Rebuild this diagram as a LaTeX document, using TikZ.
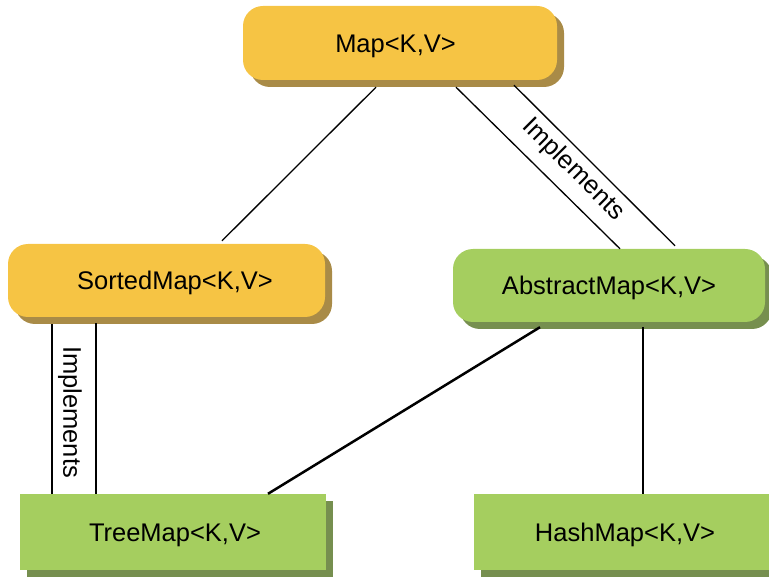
\documentclass[tikz,border=0pt]{standalone}
\usepackage{fontspec}
\setmainfont{Liberation Sans}
\usetikzlibrary{shadows}
\definecolor{orfill}{HTML}{F6C444}
\definecolor{orshadow}{HTML}{A98B47}
\definecolor{grfill}{HTML}{A5CE5F}
\definecolor{grshadow}{HTML}{768F4F}
\tikzset{
  boxtext/.style={font=\fontsize{25.5}{30}\selectfont, text height=18.3pt, text depth=0pt, inner sep=0pt},
  orbox/.style={boxtext, rounded corners=20pt, fill=orfill,
    general shadow={fill=orshadow, shadow xshift=7pt, shadow yshift=-7pt}},
  grround/.style={boxtext, rounded corners=20pt, fill=grfill,
    general shadow={fill=grshadow, shadow xshift=7pt, shadow yshift=-7pt}},
  grrect/.style={boxtext, fill=grfill,
    general shadow={fill=grshadow, shadow xshift=7pt, shadow yshift=-7pt}},
  thinlink/.style={draw=black, line width=1.3pt},
  thicklink/.style={draw=black, line width=2.5pt},
  impl/.style={font=\fontsize{25.5}{30}\selectfont, text height=18.3pt, text depth=0pt, inner sep=0pt}
}
\begin{document}
\begin{tikzpicture}[x=1pt, y=-1pt]
\useasboundingbox (0,0) rectangle (769,577);
\clip (0,0) rectangle (769,577);
% boxes
\node[orbox, minimum width=314pt, minimum height=74pt] (map) at (400,43) {\hspace*{-9pt}Map<K,V>};
\node[orbox, minimum width=317pt, minimum height=73pt] (sorted) at (166.5,280.5) {\hspace*{17pt}SortedMap<K,V>};
\node[grround, minimum width=312pt, minimum height=73pt] (abstract) at (609,285.5) {AbstractMap<K,V>};
\node[grrect, minimum width=306pt, minimum height=76pt] (tree) at (173,532) {\hspace*{4pt}TreeMap<K,V>};
\node[grrect, minimum width=302pt, minimum height=76pt] (hash) at (625,532) {HashMap<K,V>};
% connectors
\draw[thinlink] ([xshift=-24pt,yshift=-7pt]map.south) -- ([xshift=55.5pt,yshift=3pt]sorted.north);
\draw[thinlink] ([xshift=56pt,yshift=-7pt]map.south) -- ([xshift=11pt]abstract.north);
\draw[thinlink] ([xshift=114pt,yshift=-5pt]map.south) -- ([xshift=66pt,yshift=3pt]abstract.north);
\node[impl, rotate=-45] (impl1) at (575,168) {Implements};
\draw[thicklink] ([xshift=-114.5pt,yshift=-7pt]sorted.south) -- ([xshift=-121pt]tree.north);
\draw[thicklink] ([xshift=-70.5pt,yshift=-6pt]sorted.south) -- ([xshift=-77pt]tree.north);
\node[impl, rotate=-90] (impl2) at (72.5,412) {Implements};
\draw[thicklink] ([xshift=-69pt,yshift=-5pt]abstract.south) -- ([xshift=95pt]tree.north);
\draw[thicklink] ([xshift=34pt,yshift=-5pt]abstract.south) -- ([xshift=18pt]hash.north);
\end{tikzpicture}
\end{document}
